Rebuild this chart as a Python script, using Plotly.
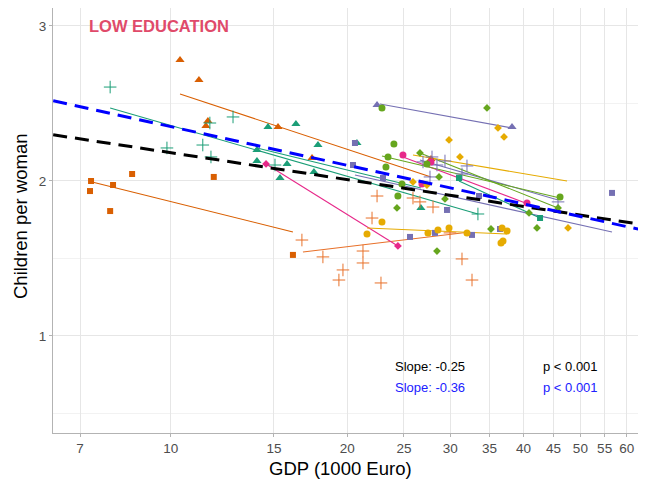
import plotly.graph_objects as go

# ---------------- data (GDP in 1000 Euro, children per woman) ----------------
# orange triangles
ot_gdp = [10.37, 11.17, 11.57, 11.48, 15.24, 17.42, 27.80]
ot_tfr = [2.781, 2.652, 2.387, 2.355, 2.348, 2.148, 2.142]
ot_fit_gdp = [10.37, 27.80]
ot_fit_tfr = [2.561, 2.026]
# teal triangles
tt_gdp = [14.65, 16.35, 17.83, 14.03, 14.03, 15.79, 15.36, 17.55, 20.78, 26.72]
tt_tfr = [2.348, 2.368, 2.232, 2.200, 2.129, 2.110, 2.019, 2.058, 2.245, 1.826]
tt_fit_gdp = [14.03, 26.72]
tt_fit_tfr = [2.213, 1.955]
# teal plus
tp_gdp = [7.88, 9.85, 11.34, 11.66, 12.77, 11.71, 15.06, 33.43]
tp_tfr = [2.606, 2.213, 2.232, 2.374, 2.413, 2.155, 2.103, 1.787]
tp_fit_gdp = [7.88, 33.43]
tp_fit_tfr = [2.471, 1.787]
# orange squares
os_gdp = [7.31, 7.28, 7.97, 8.59, 11.84, 7.88, 16.16]
os_tfr = [2.000, 1.935, 1.974, 2.045, 2.026, 1.806, 1.523]
os_fit_gdp = [7.34, 16.16]
os_fit_tfr = [1.994, 1.671]
# orange plus
op_gdp = [16.74, 18.18, 19.67, 19.36, 21.28, 21.28, 22.05, 22.49, 22.84, 25.90, 26.62, 28.02, 29.95, 31.40, 32.66]
op_tfr = [1.619, 1.510, 1.426, 1.361, 1.548, 1.471, 1.761, 1.903, 1.342, 1.890, 1.865, 1.832, 1.665, 1.497, 1.361]
op_fit_gdp = [16.81, 32.40]
op_fit_tfr = [1.542, 1.671]
# purple triangles
pt_gdp = [22.49, 38.22]
pt_tfr = [2.490, 2.348]
pt_fit_gdp = [22.75, 38.22]
pt_fit_tfr = [2.497, 2.342]
# purple squares
ps_gdp = [20.62, 20.46, 23.02, 29.60, 25.60, 28.24, 32.66, 33.57, 36.46, 56.62]
ps_tfr = [2.245, 2.103, 2.019, 1.813, 1.639, 1.665, 1.652, 1.903, 1.690, 1.923]
ps_fit_gdp = [20.62, 56.62]
ps_fit_tfr = [2.039, 1.671]
# purple plus
pp_gdp = [26.94, 27.91, 28.46, 29.37, 32.02, 27.69, 31.40, 45.80]
pp_tfr = [2.123, 2.155, 2.103, 2.129, 2.097, 2.026, 2.045, 1.865]
pp_fit_gdp = [26.62, 45.80]
pp_fit_tfr = [2.135, 1.877]
# pink circles
pc_gdp = [24.90, 26.83, 27.80, 40.54]
pc_tfr = [2.168, 1.981, 2.123, 1.858]
pc_fit_gdp = [24.90, 40.70]
pc_fit_tfr = [2.155, 1.852]
# pink diamonds
pd_gdp = [14.54, 24.41]
pd_tfr = [2.110, 1.581]
pd_fit_gdp = [14.54, 24.41]
pd_fit_tfr = [2.110, 1.581]
# green circles
gc_gdp = [22.93, 24.03, 23.48, 23.29, 24.80, 24.41, 27.36, 46.16]
gc_tfr = [2.471, 2.239, 2.155, 2.090, 1.981, 1.903, 2.110, 1.897]
gc_fit_gdp = [22.93, 46.16]
gc_fit_tfr = [2.161, 1.890]
# green diamonds
gd_gdp = [34.64, 26.62, 28.69, 24.32, 29.37, 28.46, 35.19, 42.16, 40.86, 45.80]
gd_tfr = [2.471, 2.181, 2.026, 1.826, 1.884, 1.548, 1.690, 1.697, 1.794, 1.826]
gd_fit_gdp = [26.62, 45.80]
gd_fit_tfr = [2.181, 1.826]
# yellow diamonds
yd_gdp = [36.17, 37.04, 29.84, 31.15, 47.63, 25.90, 27.36]
yd_tfr = [2.342, 2.284, 2.265, 2.155, 1.697, 1.994, 1.974]
yd_fit_gdp = [25.90, 47.45]
yd_fit_tfr = [2.168, 2.000]
# yellow circles
yc_gdp = [21.62, 22.93, 27.47, 28.57, 29.84, 32.02, 36.75, 37.48, 36.60, 36.89]
yc_tfr = [1.658, 1.735, 1.665, 1.684, 1.697, 1.665, 1.697, 1.677, 1.600, 1.613]
yc_fit_gdp = [21.62, 37.48]
yc_fit_tfr = [1.697, 1.658]
# teal squares
ts_gdp = [31.03, 42.67]
ts_tfr = [2.019, 1.761]
ts_fit_gdp = [31.03, 42.67]
ts_fit_tfr = [2.000, 1.761]

# pooled fits
all_fit_gdp = [6.3, 63.0]
all_fit_tfr = [2.298, 1.722]
mixed_fit_gdp = [6.3, 63.0]
mixed_fit_tfr = [2.517, 1.688]

x_ticks = [7, 10, 15, 20, 25, 30, 35, 40, 45, 50, 55, 60]
y_ticks = [1, 2, 3]
y_minor = [0.5, 1.5, 2.5]

TEAL, ORANGE, PURPLE, PINK, GREEN, YELLOW = "#1B9E77", "#D95F02", "#7570B3", "#E7298A", "#66A61E", "#E6AB02"

groups = [
    (ot_gdp, ot_tfr, ot_fit_gdp, ot_fit_tfr, ORANGE, "triangle-up", 8),
    (tt_gdp, tt_tfr, tt_fit_gdp, tt_fit_tfr, TEAL, "triangle-up", 8),
    (tp_gdp, tp_tfr, tp_fit_gdp, tp_fit_tfr, TEAL, "cross-thin", 9),
    (os_gdp, os_tfr, os_fit_gdp, os_fit_tfr, ORANGE, "square", 6),
    (op_gdp, op_tfr, op_fit_gdp, op_fit_tfr, "#E8712A", "cross-thin", 9),
    (pt_gdp, pt_tfr, pt_fit_gdp, pt_fit_tfr, PURPLE, "triangle-up", 8),
    (ps_gdp, ps_tfr, ps_fit_gdp, ps_fit_tfr, PURPLE, "square", 6),
    (pp_gdp, pp_tfr, pp_fit_gdp, pp_fit_tfr, PURPLE, "cross-thin", 9),
    (pc_gdp, pc_tfr, pc_fit_gdp, pc_fit_tfr, PINK, "circle", 7),
    (pd_gdp, pd_tfr, pd_fit_gdp, pd_fit_tfr, PINK, "diamond", 6),
    (gc_gdp, gc_tfr, gc_fit_gdp, gc_fit_tfr, GREEN, "circle", 7),
    (gd_gdp, gd_tfr, gd_fit_gdp, gd_fit_tfr, GREEN, "diamond", 6),
    (yd_gdp, yd_tfr, yd_fit_gdp, yd_fit_tfr, YELLOW, "diamond", 6),
    (yc_gdp, yc_tfr, yc_fit_gdp, yc_fit_tfr, YELLOW, "circle", 7),
    (ts_gdp, ts_tfr, ts_fit_gdp, ts_fit_tfr, TEAL, "square", 6),
]

fig = go.Figure()

for gx, gy, fx, fy, col, sym, sz in groups:
    fig.add_trace(go.Scatter(x=fx, y=fy, mode="lines", line=dict(color=col, width=1.1),
                             hoverinfo="skip", showlegend=False))
for gx, gy, fx, fy, col, sym, sz in groups:
    if sym == "cross-thin":
        mk = dict(symbol=sym, size=sz, color=col, line=dict(color=col, width=1))
    else:
        mk = dict(symbol=sym, size=sz, color=col, line=dict(width=0))
    fig.add_trace(go.Scatter(x=gx, y=gy, mode="markers", marker=mk, showlegend=False))

fig.add_trace(go.Scatter(x=all_fit_gdp, y=all_fit_tfr, mode="lines",
                         line=dict(color="black", width=3, dash="14px,8px"), showlegend=False))
fig.add_trace(go.Scatter(x=mixed_fit_gdp, y=mixed_fit_tfr, mode="lines",
                         line=dict(color="#0000FF", width=3, dash="14px,8px"), showlegend=False))

FONT = "Liberation Sans, Arial, sans-serif"
GRID = "#E6E6E6"
MINOR = "#F2F2F2"

fig.update_layout(
    width=646, height=481,
    margin=dict(l=45, r=14, t=0, b=56, autoexpand=False),
    paper_bgcolor="white", plot_bgcolor="white",
    font=dict(family=FONT, color="#4D4D4D", size=13.5),
    showlegend=False,
    xaxis=dict(type="log", range=[0.799, 1.8007], automargin=False,
               tickvals=x_ticks, ticktext=[str(v) for v in x_ticks],
               showgrid=True, gridcolor=GRID, gridwidth=1,
               showline=True, linecolor="#B3B3B3", linewidth=1, mirror=True,
               ticks="outside", ticklen=3, tickcolor="#B3B3B3",
               zeroline=False),
    yaxis=dict(range=[0.374, 3.116], tickvals=y_ticks, automargin=False,
               showgrid=True, gridcolor=GRID, gridwidth=1,
               minor=dict(tickvals=y_minor, showgrid=True, gridcolor=MINOR, ticks=""),
               showline=True, linecolor="#B3B3B3", linewidth=1, mirror=True,
               ticks="outside", ticklen=3, tickcolor="#B3B3B3",
               zeroline=False),
    annotations=[
        dict(text="GDP (1000 Euro)", xref="paper", yref="paper", x=0.4906, y=-0.0847,
             xanchor="center", yanchor="middle", showarrow=False,
             font=dict(size=18.5, color="black")),
        dict(text="Children per woman", xref="paper", yref="paper", x=-0.0545, y=0.5106,
             xanchor="center", yanchor="middle", showarrow=False, textangle=-90,
             font=dict(size=18.5, color="black")),
        dict(text="<b>LOW EDUCATION</b>", xref="paper", yref="paper", x=0.0575, y=0.9576,
             xanchor="left", yanchor="middle", showarrow=False,
             font=dict(size=16.5, color="#E04A6A", family=FONT)),
        dict(text="Slope: -0.25", xref="paper", yref="paper", x=0.579, y=0.1553,
             xanchor="left", yanchor="middle", showarrow=False, font=dict(size=13, color="black")),
        dict(text="p < 0.001", xref="paper", yref="paper", x=0.832, y=0.1553,
             xanchor="left", yanchor="middle", showarrow=False, font=dict(size=13, color="black")),
        dict(text="Slope: -0.36", xref="paper", yref="paper", x=0.579, y=0.1059,
             xanchor="left", yanchor="middle", showarrow=False, font=dict(size=13, color="#2020FF")),
        dict(text="p < 0.001", xref="paper", yref="paper", x=0.832, y=0.1059,
             xanchor="left", yanchor="middle", showarrow=False, font=dict(size=13, color="#2020FF")),
    ],
)

fig.write_html("out.html")
